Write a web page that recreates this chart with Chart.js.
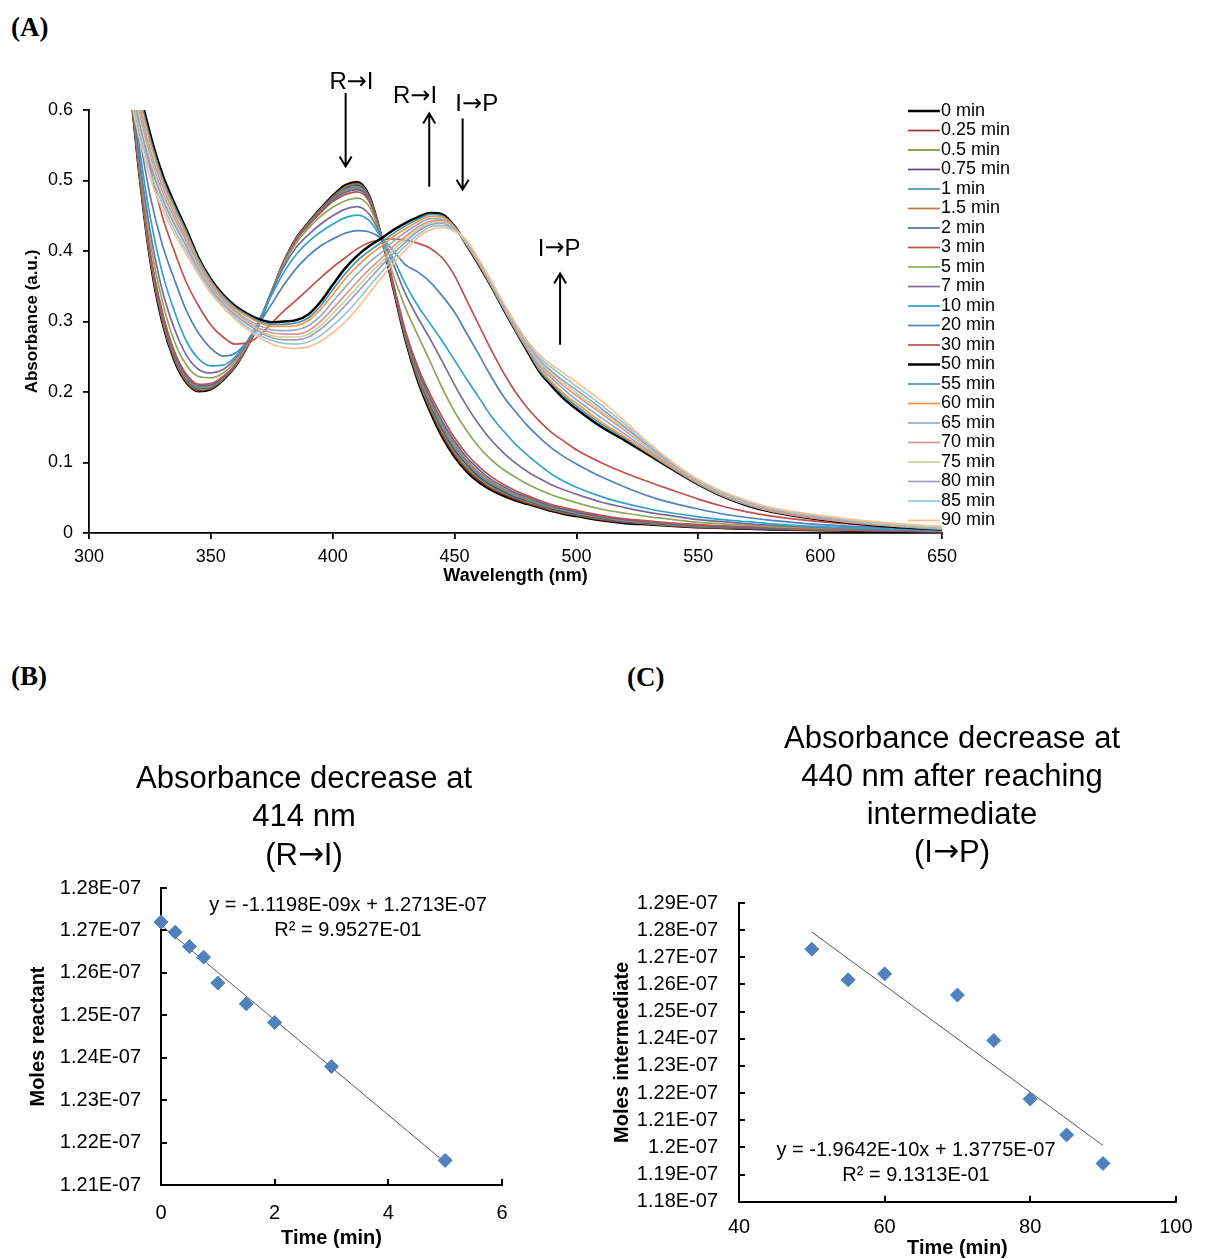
<!DOCTYPE html>
<html>
<head>
<meta charset="utf-8">
<script src="https://cdn.jsdelivr.net/npm/chart.js@4.4.1/dist/chart.umd.min.js"></script>
<style>
  body { margin: 0; background: #fff; width: 1212px; height: 1259px; position: relative; overflow: hidden; }
  .panel { position: absolute; }
  .tag { position: absolute; font-family: "Liberation Serif", "Times New Roman", serif; font-weight: bold; font-size: 27px; line-height: 30px; }
</style>
</head>
<body>
<div class="tag" style="left:11px; top:12px;">(A)</div>
<div class="tag" style="left:11px; top:661px;">(B)</div>
<div class="tag" style="left:627px; top:662px;">(C)</div>
<canvas id="chartA" class="panel" style="left:0; top:60px;" width="1040" height="560"></canvas>
<canvas id="chartB" class="panel" style="left:0; top:700px;" width="560" height="570"></canvas>
<canvas id="chartC" class="panel" style="left:600px; top:700px;" width="612" height="570"></canvas>
<script>
// ---- Panel A: UV-vis spectra ----
const wavelengths = [315,320,325,330,335,340,345,350,355,360,365,370,375,380,385,390,395,400,405,410,415,420,425,430,435,440,445,450,455,460,465,470,475,480,485,490,495,500,510,520,530,540,550,560,570,580,600,625,650];
const timeLabels = ['0 min','0.25 min','0.5 min','0.75 min','1 min','1.5 min','2 min','3 min','5 min','7 min','10 min','20 min','30 min','50 min','55 min','60 min','65 min','70 min','75 min','80 min','85 min','90 min'];

const abs_0    = [0.70,0.53,0.39,0.30,0.245,0.213,0.201,0.204,0.217,0.236,0.265,0.30,0.342,0.385,0.418,0.44,0.46,0.478,0.493,0.498,0.478,0.42,0.345,0.272,0.215,0.172,0.136,0.108,0.087,0.072,0.061,0.053,0.046,0.041,0.036,0.031,0.027,0.024,0.018,0.014,0.012,0.010,0.008,0.007,0.006,0.005,0.004,0.003,0.002];
const abs_0_25 = [0.701,0.531,0.391,0.302,0.247,0.214,0.202,0.205,0.218,0.236,0.265,0.30,0.342,0.385,0.418,0.44,0.459,0.477,0.491,0.496,0.477,0.42,0.346,0.274,0.217,0.175,0.139,0.111,0.09,0.075,0.063,0.055,0.048,0.042,0.037,0.032,0.028,0.025,0.019,0.015,0.013,0.010,0.008,0.007,0.006,0.005,0.004,0.003,0.002];
const abs_0_5  = [0.703,0.533,0.393,0.304,0.248,0.216,0.204,0.206,0.218,0.237,0.266,0.30,0.342,0.385,0.417,0.439,0.459,0.476,0.49,0.495,0.476,0.42,0.347,0.275,0.22,0.178,0.143,0.115,0.093,0.078,0.066,0.057,0.05,0.044,0.039,0.033,0.029,0.026,0.020,0.016,0.013,0.011,0.009,0.008,0.007,0.006,0.005,0.003,0.002];
const abs_0_75 = [0.704,0.534,0.394,0.306,0.25,0.218,0.205,0.207,0.219,0.237,0.266,0.30,0.342,0.385,0.417,0.438,0.458,0.475,0.488,0.493,0.475,0.42,0.348,0.277,0.223,0.182,0.147,0.118,0.097,0.08,0.068,0.059,0.051,0.046,0.04,0.034,0.030,0.027,0.021,0.016,0.014,0.012,0.010,0.008,0.007,0.006,0.005,0.003,0.002];
const abs_1    = [0.705,0.535,0.395,0.308,0.252,0.219,0.206,0.208,0.22,0.238,0.266,0.30,0.342,0.385,0.417,0.438,0.457,0.474,0.487,0.491,0.474,0.42,0.349,0.279,0.225,0.185,0.15,0.122,0.10,0.083,0.071,0.061,0.053,0.047,0.041,0.036,0.032,0.028,0.022,0.017,0.015,0.012,0.010,0.009,0.008,0.007,0.005,0.004,0.003];
const abs_1_5  = [0.707,0.537,0.397,0.31,0.253,0.221,0.208,0.209,0.22,0.238,0.266,0.301,0.343,0.384,0.416,0.437,0.456,0.473,0.485,0.489,0.473,0.42,0.35,0.28,0.228,0.188,0.154,0.126,0.103,0.086,0.073,0.063,0.055,0.049,0.043,0.037,0.033,0.029,0.023,0.018,0.015,0.013,0.011,0.009,0.008,0.007,0.005,0.004,0.003];
const abs_2    = [0.708,0.538,0.398,0.312,0.255,0.223,0.209,0.21,0.221,0.238,0.267,0.301,0.343,0.384,0.416,0.437,0.455,0.472,0.483,0.487,0.472,0.42,0.351,0.282,0.231,0.192,0.158,0.13,0.107,0.09,0.076,0.066,0.057,0.051,0.044,0.038,0.034,0.030,0.024,0.019,0.016,0.013,0.011,0.009,0.008,0.007,0.006,0.004,0.003];
const abs_3    = [0.71,0.54,0.40,0.315,0.258,0.225,0.211,0.212,0.222,0.239,0.267,0.301,0.343,0.384,0.415,0.436,0.454,0.47,0.48,0.484,0.47,0.42,0.352,0.285,0.235,0.197,0.164,0.135,0.112,0.094,0.08,0.069,0.06,0.053,0.046,0.04,0.036,0.032,0.025,0.02,0.017,0.014,0.012,0.010,0.009,0.008,0.006,0.004,0.003];
const abs_5    = [0.72,0.545,0.415,0.33,0.272,0.238,0.222,0.22,0.227,0.243,0.268,0.302,0.343,0.382,0.411,0.432,0.449,0.462,0.471,0.475,0.463,0.42,0.365,0.318,0.28,0.243,0.205,0.172,0.145,0.122,0.104,0.09,0.079,0.069,0.061,0.054,0.048,0.043,0.034,0.028,0.023,0.019,0.015,0.013,0.011,0.009,0.007,0.005,0.003];
const abs_7    = [0.71,0.55,0.43,0.345,0.29,0.252,0.232,0.227,0.232,0.247,0.27,0.302,0.342,0.378,0.405,0.423,0.438,0.45,0.459,0.463,0.452,0.42,0.38,0.338,0.305,0.275,0.243,0.21,0.18,0.154,0.132,0.114,0.099,0.087,0.077,0.068,0.061,0.055,0.044,0.036,0.029,0.024,0.019,0.016,0.013,0.011,0.008,0.005,0.003];
const abs_10   = [0.72,0.565,0.45,0.37,0.315,0.272,0.247,0.237,0.238,0.25,0.272,0.303,0.338,0.37,0.395,0.413,0.427,0.438,0.447,0.451,0.443,0.418,0.388,0.352,0.322,0.297,0.272,0.245,0.218,0.192,0.166,0.145,0.126,0.11,0.096,0.083,0.073,0.065,0.052,0.042,0.034,0.028,0.023,0.019,0.016,0.013,0.009,0.006,0.004];
const abs_20   = [0.70,0.58,0.48,0.41,0.36,0.315,0.283,0.262,0.251,0.255,0.272,0.298,0.325,0.352,0.375,0.393,0.407,0.417,0.425,0.429,0.427,0.418,0.40,0.38,0.37,0.356,0.336,0.313,0.283,0.253,0.222,0.194,0.172,0.152,0.135,0.12,0.108,0.098,0.08,0.065,0.052,0.042,0.034,0.027,0.022,0.018,0.012,0.008,0.005];
const abs_30   = [0.69,0.595,0.52,0.45,0.40,0.355,0.322,0.295,0.278,0.268,0.27,0.28,0.298,0.315,0.33,0.346,0.362,0.377,0.39,0.403,0.412,0.416,0.417,0.415,0.411,0.404,0.39,0.365,0.33,0.295,0.26,0.228,0.20,0.177,0.158,0.142,0.13,0.118,0.10,0.085,0.072,0.06,0.048,0.038,0.03,0.024,0.016,0.01,0.006];
const abs_50   = [0.74,0.64,0.567,0.51,0.468,0.43,0.39,0.36,0.338,0.322,0.311,0.303,0.299,0.30,0.302,0.31,0.328,0.352,0.375,0.393,0.407,0.418,0.43,0.44,0.448,0.454,0.452,0.435,0.408,0.38,0.35,0.318,0.287,0.257,0.228,0.208,0.19,0.176,0.151,0.131,0.11,0.089,0.069,0.052,0.039,0.03,0.019,0.01,0.005];
const abs_55   = [0.731,0.633,0.561,0.505,0.464,0.427,0.388,0.358,0.336,0.32,0.309,0.30,0.296,0.296,0.298,0.305,0.322,0.345,0.367,0.386,0.40,0.412,0.425,0.436,0.445,0.452,0.45,0.434,0.409,0.381,0.351,0.319,0.288,0.259,0.23,0.211,0.194,0.18,0.155,0.134,0.112,0.09,0.07,0.053,0.04,0.031,0.02,0.011,0.005];
const abs_60   = [0.722,0.626,0.555,0.50,0.459,0.423,0.385,0.356,0.334,0.318,0.307,0.298,0.293,0.293,0.294,0.301,0.317,0.338,0.36,0.378,0.394,0.407,0.421,0.432,0.442,0.449,0.448,0.434,0.409,0.382,0.352,0.32,0.289,0.26,0.233,0.214,0.197,0.184,0.158,0.136,0.113,0.091,0.07,0.053,0.04,0.031,0.02,0.011,0.006];
const abs_65   = [0.709,0.616,0.545,0.493,0.453,0.418,0.382,0.353,0.332,0.315,0.303,0.294,0.288,0.287,0.288,0.294,0.308,0.328,0.348,0.367,0.384,0.398,0.414,0.427,0.438,0.446,0.445,0.433,0.41,0.383,0.353,0.321,0.291,0.262,0.236,0.219,0.203,0.189,0.164,0.14,0.116,0.093,0.071,0.054,0.041,0.032,0.021,0.012,0.006];
const abs_70   = [0.695,0.605,0.536,0.485,0.447,0.413,0.378,0.35,0.329,0.313,0.30,0.29,0.284,0.282,0.282,0.287,0.30,0.318,0.337,0.356,0.374,0.39,0.407,0.421,0.434,0.442,0.443,0.432,0.412,0.384,0.354,0.323,0.293,0.265,0.24,0.223,0.208,0.195,0.17,0.145,0.119,0.094,0.073,0.056,0.043,0.033,0.022,0.013,0.007];
const abs_75   = [0.686,0.598,0.53,0.48,0.442,0.409,0.376,0.348,0.327,0.311,0.298,0.287,0.28,0.278,0.278,0.282,0.294,0.311,0.329,0.348,0.367,0.384,0.402,0.417,0.431,0.44,0.441,0.431,0.412,0.385,0.355,0.323,0.294,0.266,0.242,0.226,0.212,0.199,0.173,0.147,0.12,0.095,0.073,0.056,0.043,0.034,0.023,0.013,0.007];
const abs_80   = [0.677,0.591,0.524,0.475,0.438,0.406,0.373,0.346,0.325,0.309,0.296,0.285,0.277,0.274,0.274,0.278,0.289,0.304,0.322,0.341,0.36,0.379,0.397,0.413,0.428,0.437,0.439,0.43,0.413,0.386,0.356,0.324,0.295,0.268,0.245,0.229,0.215,0.203,0.177,0.15,0.122,0.096,0.074,0.057,0.044,0.034,0.023,0.014,0.008];
const abs_85   = [0.664,0.581,0.514,0.468,0.431,0.40,0.37,0.343,0.323,0.306,0.292,0.281,0.273,0.269,0.268,0.271,0.28,0.294,0.31,0.329,0.35,0.37,0.39,0.408,0.423,0.434,0.436,0.429,0.414,0.387,0.357,0.326,0.296,0.27,0.248,0.234,0.221,0.208,0.182,0.154,0.124,0.098,0.075,0.058,0.045,0.035,0.024,0.014,0.008];
const abs_90   = [0.65,0.57,0.505,0.46,0.425,0.395,0.366,0.34,0.32,0.303,0.289,0.277,0.268,0.263,0.262,0.264,0.272,0.284,0.299,0.318,0.34,0.362,0.383,0.402,0.419,0.43,0.433,0.428,0.415,0.388,0.358,0.327,0.298,0.272,0.252,0.238,0.226,0.214,0.188,0.158,0.127,0.099,0.076,0.059,0.046,0.036,0.025,0.015,0.009];

// ---- Panel B: reactant decay ----
const timeB  = [0, 0.25, 0.5, 0.75, 1, 1.5, 2, 3, 5];
const molesB = [1.2720e-7, 1.2696e-7, 1.2662e-7, 1.2637e-7, 1.2576e-7, 1.2527e-7, 1.2483e-7, 1.2379e-7, 1.2158e-7];
const trendBx = [0, 5];
const trendBy = [1.2713e-7, 1.2153e-7];
const xTicksB = [0, 2, 4, 6];
const yTicksB = [1.21e-7, 1.22e-7, 1.23e-7, 1.24e-7, 1.25e-7, 1.26e-7, 1.27e-7, 1.28e-7];
const yLabelsB = ['1.21E-07','1.22E-07','1.23E-07','1.24E-07','1.25E-07','1.26E-07','1.27E-07','1.28E-07'];

// ---- Panel C: intermediate decay ----
const timeC  = [50, 55, 60, 70, 75, 80, 85, 90];
const molesC = [1.2730e-7, 1.2617e-7, 1.2639e-7, 1.2561e-7, 1.2394e-7, 1.2178e-7, 1.2046e-7, 1.1941e-7];
const trendCx = [50, 90];
const trendCy = [1.2793e-7, 1.2007e-7];
const xTicksC = [40, 60, 80, 100];
const yTicksC = [1.18e-7, 1.19e-7, 1.20e-7, 1.21e-7, 1.22e-7, 1.23e-7, 1.24e-7, 1.25e-7, 1.26e-7, 1.27e-7, 1.28e-7, 1.29e-7];
const yLabelsC = ['1.18E-07','1.19E-07','1.2E-07','1.21E-07','1.22E-07','1.23E-07','1.24E-07','1.25E-07','1.26E-07','1.27E-07','1.28E-07','1.29E-07'];

const spectra = [abs_0, abs_0_25, abs_0_5, abs_0_75, abs_1, abs_1_5, abs_2, abs_3, abs_5, abs_7, abs_10, abs_20, abs_30,
                 abs_50, abs_55, abs_60, abs_65, abs_70, abs_75, abs_80, abs_85, abs_90];
const curveColors = ['#000000','#943634','#77933C','#5F497A','#4F97B0','#B97A4C','#4E6F9E','#C0504D','#8DA85A','#7B6A98','#31A3C9',
                     '#4F81BD','#C0504D','#000000','#4598AD','#F79646','#95A9C9','#D99694','#C3D69B','#A99BC0','#8FCADB','#FAC090'];

const FONT = '"Liberation Sans", Arial, sans-serif';
const ARROW_FONT = '"DejaVu Sans", sans-serif';

// text with a long arrow glyph: the arrow is taken from DejaVu, the rest from Liberation Sans
function drawArrowText(ctx, text, cx, cy, size) {
    const segs = text.split(/(\u2192)/).filter(s => s.length);
    const fonts = segs.map(s => s === '\u2192' ? size + 'px ' + ARROW_FONT : size + 'px ' + FONT);
    const widths = segs.map((s, i) => { ctx.font = fonts[i]; return ctx.measureText(s).width; });
    let x = cx - widths.reduce((a, b) => a + b, 0) / 2;
    ctx.textAlign = 'left';
    ctx.textBaseline = 'middle';
    segs.forEach((s, i) => {
        ctx.font = fonts[i];
        ctx.fillText(s, x, cy);
        x += widths[i];
    });
}

// legend drawn inside the plot, at its right edge (Excel style)
const sideLegend = {
    id: 'sideLegend',
    afterDraw(chart) {
        const ctx = chart.ctx;
        const area = chart.chartArea;
        ctx.save();
        ctx.font = '18px ' + FONT;
        ctx.textBaseline = 'middle';
        ctx.textAlign = 'left';
        chart.data.datasets.forEach((ds, i) => {
            const y = area.top + 1 + i * 19.5;
            ctx.strokeStyle = ds.borderColor;
            ctx.lineWidth = ds.borderWidth;
            ctx.beginPath();
            ctx.moveTo(area.right - 34, y);
            ctx.lineTo(area.right - 2, y);
            ctx.stroke();
            ctx.fillStyle = '#000';
            ctx.fillText(ds.label, area.right - 1, y);
        });
        ctx.restore();
    }
};

// arrows + labels, placed in data units
const arrowMarks = [
    { text: 'R\u2192I', tx: 407.7, ty: 0.639, x: 405.3, y0: 0.624, y1: 0.520 },
    { text: 'R\u2192I', tx: 433.8, ty: 0.619, x: 439.6, y0: 0.491, y1: 0.595 },
    { text: 'I\u2192P', tx: 459.1, ty: 0.608, x: 453.3, y0: 0.588, y1: 0.487 },
    { text: 'I\u2192P', tx: 492.9, ty: 0.403, x: 493.3, y0: 0.267, y1: 0.368 }
];
const arrowPlugin = {
    id: 'arrowNotes',
    afterDraw(chart) {
        const ctx = chart.ctx;
        const xs = chart.scales.x, ys = chart.scales.y;
        ctx.save();
        ctx.strokeStyle = '#000';
        ctx.fillStyle = '#000';
        ctx.lineWidth = 2;
        arrowMarks.forEach(m => {
            drawArrowText(ctx, m.text, xs.getPixelForValue(m.tx), ys.getPixelForValue(m.ty), 24);
            const px = xs.getPixelForValue(m.x);
            const p0 = ys.getPixelForValue(m.y0);
            const p1 = ys.getPixelForValue(m.y1);
            const dir = p1 > p0 ? 1 : -1;
            ctx.beginPath();
            ctx.moveTo(px, p0);
            ctx.lineTo(px, p1);
            ctx.moveTo(px - 6, p1 - dir * 10);
            ctx.lineTo(px, p1);
            ctx.lineTo(px + 6, p1 - dir * 10);
            ctx.stroke();
        });
        ctx.restore();
    }
};

// fixed text (titles, trendline equations), offsets from the plot corner
function textPlugin(id, notes) {
    return {
        id: id,
        afterDraw(chart) {
            const ctx = chart.ctx;
            const a = chart.chartArea;
            ctx.save();
            ctx.fillStyle = '#000';
            notes.forEach(n => {
                drawArrowText(ctx, n.text, a.left + n.dx, a.top + n.dy, n.size);
            });
            ctx.restore();
        }
    };
}

function axisFont(size, bold) {
    return { family: FONT, size: size, weight: bold ? 'bold' : 'normal' };
}

// ---------- Chart A ----------
new Chart(document.getElementById('chartA'), {
    type: 'line',
    data: {
        datasets: spectra.map((vals, i) => ({
            label: timeLabels[i],
            data: wavelengths.map((w, j) => ({ x: w, y: vals[j] })),
            borderColor: curveColors[i],
            borderWidth: (i === 0 || i === 13) ? 2.5 : 1.7,
            pointRadius: 0,
            cubicInterpolationMode: 'monotone',
            order: -i
        }))
    },
    options: {
        responsive: false,
        animation: false,
        events: [],
        layout: { padding: { top: 50, right: 98, left: 0, bottom: 0 } },
        plugins: { legend: { display: false }, tooltip: { enabled: false } },
        scales: {
            x: {
                type: 'linear', min: 300, max: 650,
                afterFit: s => { s.height = 87; },
                ticks: { stepSize: 50, color: '#000', font: axisFont(18), padding: 7.5, maxRotation: 0 },
                grid: { drawOnChartArea: false, color: '#000', tickLength: 6, lineWidth: 1.8 },
                border: { color: '#000', width: 1.8 },
                title: { display: true, text: 'Wavelength (nm)', color: '#000', font: axisFont(18, true), padding: { top: 0, bottom: 33.5 } }
            },
            y: {
                min: 0, max: 0.6,
                afterFit: s => { s.width = 89; },
                ticks: { stepSize: 0.1, color: '#000', font: axisFont(18), padding: 10 },
                grid: { drawOnChartArea: false, color: '#000', tickLength: 6, lineWidth: 1.8 },
                border: { color: '#000', width: 1.8 },
                title: { display: true, text: 'Absorbance (a.u.)', color: '#000', font: axisFont(17, true), padding: { top: 21.8, bottom: 0 } }
            }
        }
    },
    plugins: [sideLegend, arrowPlugin]
});

// ---------- Chart B and C (scatter + linear trendline) ----------
function kineticsChart(canvasId, cfg) {
    return new Chart(document.getElementById(canvasId), {
        type: 'scatter',
        data: {
            datasets: [
                {
                    data: cfg.xs.map((t, i) => ({ x: t, y: cfg.ys[i] })),
                    pointStyle: 'rectRot', pointRadius: 7,
                    backgroundColor: '#4F81BD', borderColor: '#4F81BD', borderWidth: 1,
                    clip: false, order: 0
                },
                {
                    type: 'line',
                    data: cfg.tx.map((t, i) => ({ x: t, y: cfg.ty[i] })),
                    borderColor: '#5a5a5a', borderWidth: 1, pointRadius: 0,
                    showLine: true, fill: false, order: 1
                }
            ]
        },
        options: {
            responsive: false,
            animation: false,
            events: [],
            layout: { padding: { top: cfg.padTop, right: cfg.padRight, left: 0, bottom: 0 } },
            plugins: { legend: { display: false }, tooltip: { enabled: false } },
            scales: {
                x: {
                    type: 'linear', min: cfg.xTicks[0], max: cfg.xTicks[cfg.xTicks.length - 1],
                    afterFit: s => { s.height = cfg.xHeight; },
                    afterBuildTicks: s => { s.ticks = cfg.xTicks.map(v => ({ value: v })); },
                    ticks: { color: '#000', font: axisFont(20), padding: cfg.xTickPad, maxRotation: 0, autoSkip: false },
                    grid: { drawOnChartArea: false, color: '#000', tickLength: -6, lineWidth: 2 },
                    border: { color: '#000', width: 2 },
                    title: { display: true, text: 'Time (min)', color: '#000', font: axisFont(20, true), padding: { top: 0, bottom: cfg.xTitlePad } }
                },
                y: {
                    min: cfg.yTicks[0], max: cfg.yTicks[cfg.yTicks.length - 1],
                    afterFit: s => { s.width = cfg.yWidth; },
                    afterBuildTicks: s => { s.ticks = cfg.yTicks.map(v => ({ value: v })); },
                    ticks: { color: '#000', font: axisFont(20), padding: cfg.yTickPad, autoSkip: false,
                             callback: (v, i) => cfg.yLabels[i] },
                    grid: { drawOnChartArea: false, color: '#000', tickLength: -6, lineWidth: 2 },
                    border: { color: '#000', width: 2 },
                    title: { display: true, text: cfg.yTitle, color: '#000', font: axisFont(20, true), padding: { top: cfg.yTitlePad, bottom: 0 } }
                }
            }
        },
        plugins: [textPlugin(canvasId + 'Text', cfg.notes)]
    });
}

kineticsChart('chartB', {
    xs: timeB, ys: molesB, tx: trendBx, ty: trendBy,
    xTicks: xTicksB, yTicks: yTicksB, yLabels: yLabelsB,
    yTitle: 'Moles reactant',
    padTop: 188, padRight: 58, yWidth: 161, xHeight: 85,
    xTickPad: 22, xTitlePad: 20, yTickPad: 26, yTitlePad: 26,
    notes: [
        { text: 'Absorbance decrease at', dx: 143, dy: -109, size: 31 },
        { text: '414 nm', dx: 143, dy: -71, size: 31 },
        { text: '(R\u2192I)', dx: 143, dy: -32, size: 31 },
        { text: 'y = -1.1198E-09x + 1.2713E-07', dx: 187, dy: 17, size: 20 },
        { text: 'R\u00b2 = 9.9527E-01', dx: 187, dy: 42, size: 20 }
    ]
});

kineticsChart('chartC', {
    xs: timeC, ys: molesC, tx: trendCx, ty: trendCy,
    xTicks: xTicksC, yTicks: yTicksC, yLabels: yLabelsC,
    yTitle: 'Moles intermediate',
    padTop: 203, padRight: 19, yWidth: 139, xHeight: 68.3,
    xTickPad: 19.5, xTitlePad: 10, yTickPad: 27, yTitlePad: 10,
    notes: [
        { text: 'Absorbance decrease at', dx: 213, dy: -164, size: 31 },
        { text: '440 nm after reaching', dx: 213, dy: -126, size: 31 },
        { text: 'intermediate', dx: 213, dy: -88, size: 31 },
        { text: '(I\u2192P)', dx: 213, dy: -50, size: 31 },
        { text: 'y = -1.9642E-10x + 1.3775E-07', dx: 177, dy: 247, size: 20 },
        { text: 'R\u00b2 = 9.1313E-01', dx: 177, dy: 272, size: 20 }
    ]
});
</script>
</body>
</html>
